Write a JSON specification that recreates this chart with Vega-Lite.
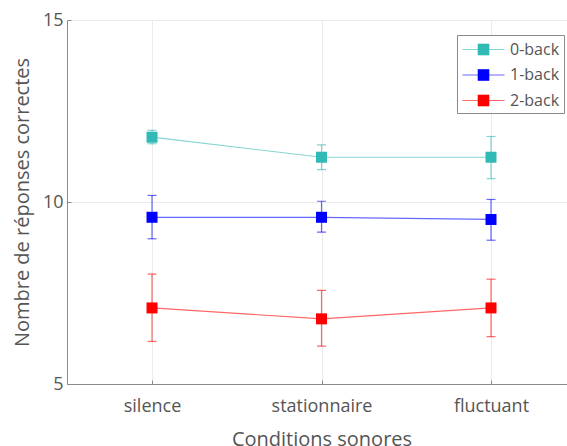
{
  "$schema": "https://vega.github.io/schema/vega-lite/v6.json",
  "width": 500,
  "height": 364,
  "autosize": {"type": "none"},
  "padding": {"left": 67, "top": 20, "right": 0, "bottom": 62},
  "background": "white",
  "config": {
    "view": {"stroke": null},
    "font": "Open Sans",
    "axis": {
      "labelFont": "Open Sans",
      "titleFont": "Open Sans",
      "labelColor": "#555555",
      "titleColor": "#555555",
      "titleFontWeight": "normal",
      "domainColor": "#8a8a8a",
      "tickColor": "#8a8a8a",
      "gridColor": "#ebebeb",
      "grid": true
    }
  },
  "data": {
    "values": [
      {"cond": "silence", "series": "0-back", "mean": 11.78, "lo": 11.6, "hi": 11.97},
      {"cond": "stationnaire", "series": "0-back", "mean": 11.23, "lo": 10.89, "hi": 11.57},
      {"cond": "fluctuant", "series": "0-back", "mean": 11.23, "lo": 10.64, "hi": 11.8},
      {"cond": "silence", "series": "1-back", "mean": 9.58, "lo": 8.99, "hi": 10.18},
      {"cond": "stationnaire", "series": "1-back", "mean": 9.58, "lo": 9.17, "hi": 10.02},
      {"cond": "fluctuant", "series": "1-back", "mean": 9.52, "lo": 8.95, "hi": 10.07},
      {"cond": "silence", "series": "2-back", "mean": 7.09, "lo": 6.17, "hi": 8.02},
      {"cond": "stationnaire", "series": "2-back", "mean": 6.79, "lo": 6.04, "hi": 7.57},
      {"cond": "fluctuant", "series": "2-back", "mean": 7.09, "lo": 6.3, "hi": 7.88}
    ]
  },
  "encoding": {
    "x": {
      "field": "cond",
      "type": "nominal",
      "sort": ["silence", "stationnaire", "fluctuant"],
      "scale": {"type": "point", "domain": ["silence", "stationnaire", "fluctuant"], "padding": 0.475, "align": 0.528},
      "axis": {
        "title": "Conditions sonores",
        "titleFontSize": 20,
        "titleX": 254.5,
        "titleY": 61,
        "titleBaseline": "alphabetic",
        "labelFontSize": 18,
        "labelAngle": 0,
        "labelBaseline": "alphabetic",
        "labelPadding": 31,
        "tickSize": -4,
        "domainColor": "#8a8a8a"
      }
    },
    "color": {
      "field": "series",
      "type": "nominal",
      "scale": {"domain": ["0-back", "1-back", "2-back"], "range": ["#31b9b5", "#0000ff", "#ff0000"]},
      "legend": {
        "title": null,
        "orient": "none",
        "legendX": 390,
        "legendY": 15,
        "padding": 4,
        "rowPadding": 6.5,
        "symbolSize": 400,
        "symbolOpacity": 1,
        "symbolType": "M-0.9,0H3.3M0.65,-0.55H1.75V0.55H0.65Z",
        "labelOffset": 28,
        "labelFontSize": 16,
        "labelFont": "Open Sans",
        "labelColor": "#555555",
        "strokeColor": "#8a8a8a",
        "fillColor": "white",
        "encode": {
          "symbols": {
            "update": {
              "stroke": {"scale": "color", "field": "value"},
              "fill": {"scale": "color", "field": "value"},
              "strokeOpacity": {"value": 0.6},
              "fillOpacity": {"value": 1},
              "strokeWidth": {"value": 1},
              "opacity": {"value": 1}
            }
          }
        }
      }
    }
  },
  "layer": [
    {
      "mark": {"type": "line", "strokeWidth": 1.2, "strokeOpacity": 0.6},
      "encoding": {
        "y": {
          "field": "mean",
          "type": "quantitative",
          "scale": {"domain": [5, 15], "nice": false, "zero": false},
          "axis": {
            "title": "Nombre de réponses correctes",
            "titleFontSize": 20,
            "titleX": -39,
            "titleY": 182,
            "titleBaseline": "alphabetic",
            "titleAngle": -90,
            "titleAlign": "center",
            "labelFontSize": 18,
            "labelPadding": 8,
            "values": [5, 10, 15],
            "tickSize": -4
          }
        }
      }
    },
    {
      "mark": {"type": "rule", "strokeWidth": 1.2, "strokeOpacity": 0.6},
      "encoding": {
        "y": {"field": "lo", "type": "quantitative"},
        "y2": {"field": "hi"}
      }
    },
    {
      "mark": {"type": "tick", "size": 9, "thickness": 1.2, "opacity": 0.6},
      "encoding": {"y": {"field": "lo", "type": "quantitative"}}
    },
    {
      "mark": {"type": "tick", "size": 9, "thickness": 1.2, "opacity": 0.6},
      "encoding": {"y": {"field": "hi", "type": "quantitative"}}
    },
    {
      "mark": {"type": "point", "shape": "square", "filled": true, "size": 121, "opacity": 1},
      "encoding": {"y": {"field": "mean", "type": "quantitative"}}
    }
  ]
}
